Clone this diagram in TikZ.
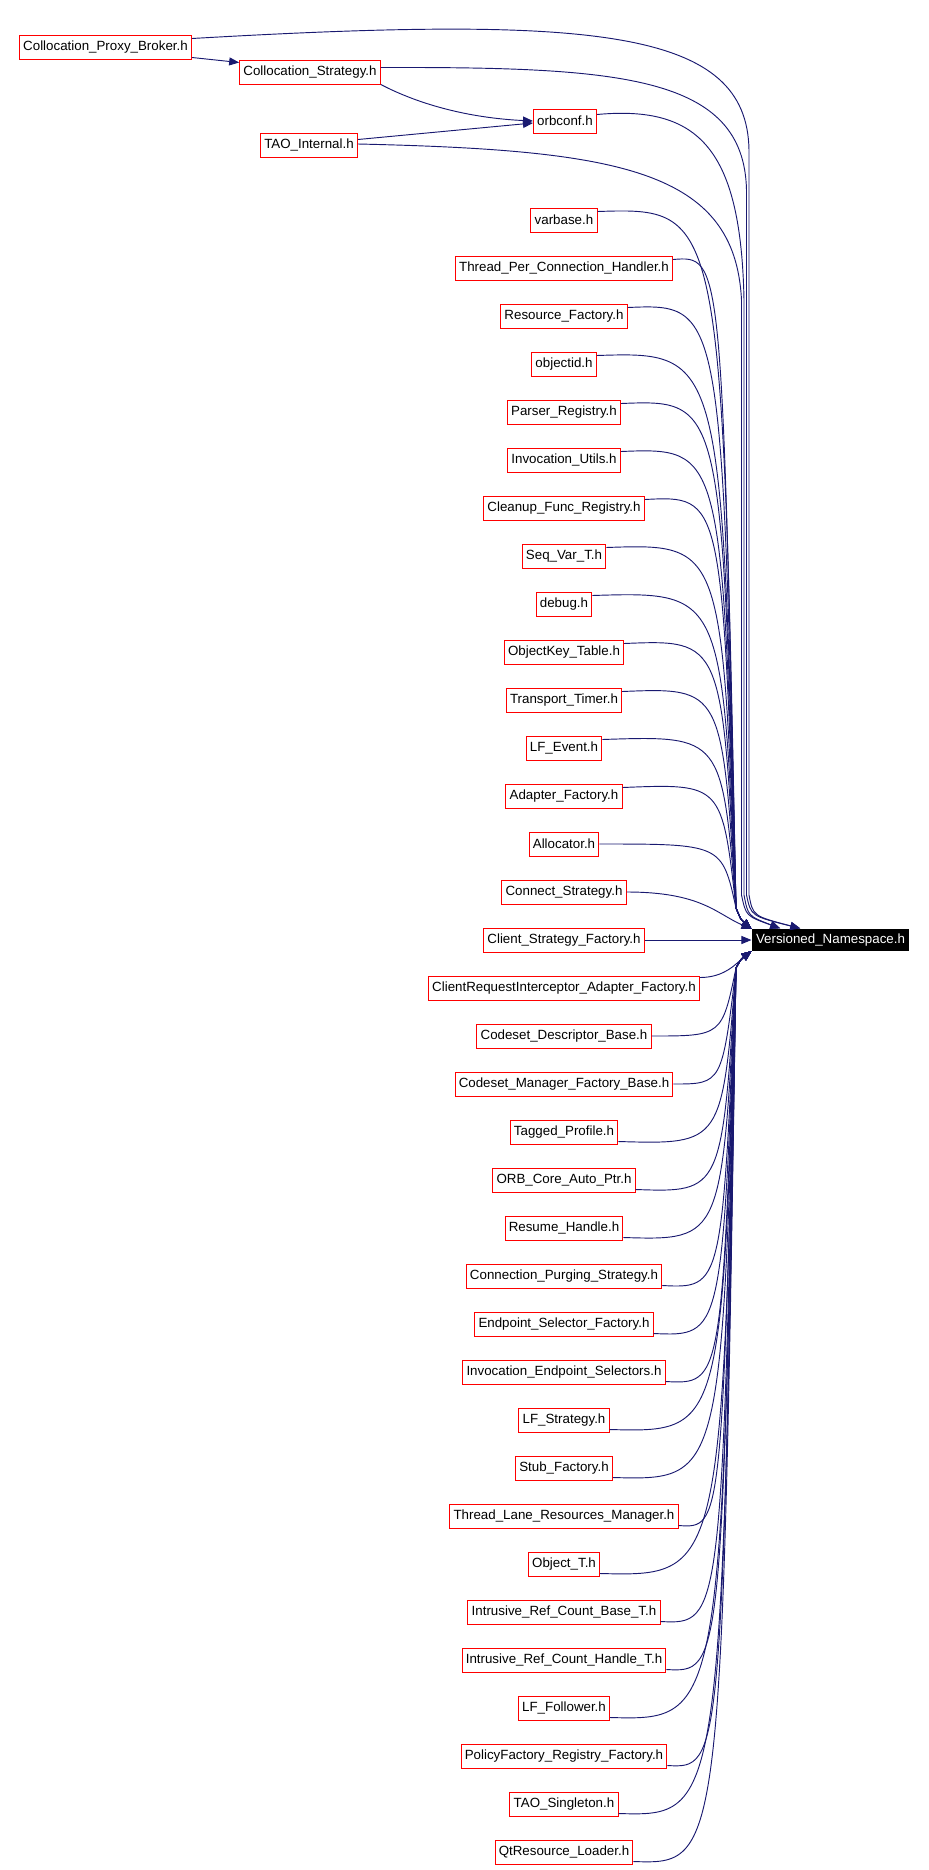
\documentclass[tikz,border=0pt]{standalone}
\usepackage{fontspec}
\setmainfont{Liberation Sans}
\usetikzlibrary{calc}
\usetikzlibrary{arrows.meta}

\definecolor{edgeblue}{RGB}{25,25,112}

\begin{document}
\begin{tikzpicture}[x=0.75pt,y=-0.75pt,
  file/.style={draw=red,line width=0.75pt,fill=white,inner xsep=2.8pt,inner ysep=0pt,minimum height=18pt},
  here/.style={fill=black,text=white,inner xsep=3.2pt,inner ysep=0pt,minimum height=17pt},
  dep/.style={draw=edgeblue,line width=0.7pt,-{Triangle[length=7.5pt,width=6pt]}}]
\def\u{48}
\def\cx{564}
\useasboundingbox (0,0) rectangle (928,1870);

\node[file] (cpb) at (105.5, 47) {Collocation\_Proxy\_Broker.h};
\node[file] (cs) at (310, 72) {Collocation\_Strategy.h};
\node[file] (orb) at (565, 121) {orbconf.h};
\node[file] (tao) at (309, 145) {TAO\_Internal.h};
\node[here] (vn) at (830.5, 940) {Versioned\_Namespace.h};

\node[file] (f1) at (\cx, 220) {varbase.h};
\node[file] (f2) at (\cx, 220+1*\u) {Thread\_Per\_Connection\_Handler.h};
\node[file] (f3) at (\cx, 220+2*\u) {Resource\_Factory.h};
\node[file] (f4) at (\cx, 220+3*\u) {objectid.h};
\node[file] (f5) at (\cx, 220+4*\u) {Parser\_Registry.h};
\node[file] (f6) at (\cx, 220+5*\u) {Invocation\_Utils.h};
\node[file] (f7) at (\cx, 220+6*\u) {Cleanup\_Func\_Registry.h};
\node[file] (f8) at (\cx, 220+7*\u) {Seq\_Var\_T.h};
\node[file] (f9) at (\cx, 220+8*\u) {debug.h};
\node[file] (f10) at (\cx, 220+9*\u) {ObjectKey\_Table.h};
\node[file] (f11) at (\cx, 220+10*\u) {Transport\_Timer.h};
\node[file] (f12) at (\cx, 220+11*\u) {LF\_Event.h};
\node[file] (f13) at (\cx, 220+12*\u) {Adapter\_Factory.h};
\node[file] (f14) at (\cx, 220+13*\u) {Allocator.h};
\node[file] (f15) at (\cx, 220+14*\u) {Connect\_Strategy.h};
\node[file] (f16) at (\cx, 220+15*\u) {Client\_Strategy\_Factory.h};
\node[file] (f17) at (\cx, 220+16*\u) {ClientRequestInterceptor\_Adapter\_Factory.h};
\node[file] (f18) at (\cx, 220+17*\u) {Codeset\_Descriptor\_Base.h};
\node[file] (f19) at (\cx, 220+18*\u) {Codeset\_Manager\_Factory\_Base.h};
\node[file] (f20) at (\cx, 220+19*\u) {Tagged\_Profile.h};
\node[file] (f21) at (\cx, 220+20*\u) {ORB\_Core\_Auto\_Ptr.h};
\node[file] (f22) at (\cx, 220+21*\u) {Resume\_Handle.h};
\node[file] (f23) at (\cx, 220+22*\u) {Connection\_Purging\_Strategy.h};
\node[file] (f24) at (\cx, 220+23*\u) {Endpoint\_Selector\_Factory.h};
\node[file] (f25) at (\cx, 220+24*\u) {Invocation\_Endpoint\_Selectors.h};
\node[file] (f26) at (\cx, 220+25*\u) {LF\_Strategy.h};
\node[file] (f27) at (\cx, 220+26*\u) {Stub\_Factory.h};
\node[file] (f28) at (\cx, 220+27*\u) {Thread\_Lane\_Resources\_Manager.h};
\node[file] (f29) at (\cx, 220+28*\u) {Object\_T.h};
\node[file] (f30) at (\cx, 220+29*\u) {Intrusive\_Ref\_Count\_Base\_T.h};
\node[file] (f31) at (\cx, 220+30*\u) {Intrusive\_Ref\_Count\_Handle\_T.h};
\node[file] (f32) at (\cx, 220+31*\u) {LF\_Follower.h};
\node[file] (f33) at (\cx, 220+32*\u) {PolicyFactory\_Registry\_Factory.h};
\node[file] (f34) at (\cx, 220+33*\u) {TAO\_Singleton.h};
\node[file] (f35) at (\cx, 220+34*\u) {QtResource\_Loader.h};

% where the bundles bend in
\coordinate (k) at (722, 0);
\coordinate (upin) at (736, 908);
\coordinate (hk) at (741, 920);
\coordinate (lowin) at (736, 968);
\coordinate (lk) at (741, 959);

% top group
\draw[dep] ($(cpb.south east)+(0,-2)$) -- ($(cs.north west)+(0,3)$);
\draw[dep] (cs.south east) .. controls (420, 105) and (470, 118) .. (orb.west);
\draw[dep] ($(tao.north east)+(0,7)$) -- ($(orb.west)+(0,2)$);
\draw[dep] ($(cpb.north east)+(0,4)$) .. controls (600, 15) and (747, 30) .. (749, 150) -- (749, 895) .. controls (753, 916) .. (vn.159);
\draw[dep] ($(cs.north east)+(0,8)$) .. controls (620, 67) and (744, 75) .. (746.5, 190) -- (746.5, 895) .. controls (751, 916) .. (vn.159);
\draw[dep] ($(orb.north east)+(0,6)$) .. controls (700, 105) and (741, 150) .. (744, 300) -- (744, 895) .. controls (748, 916) .. (vn.167);
\draw[dep] ($(tao.east)+(0,-1)$) .. controls (620, 150) and (735, 170) .. (741.5, 300) -- (741.5, 895) .. controls (746, 916) .. (vn.167);

% column above
\draw[dep] ($(f1.north east)+(0,4)$) .. controls (f1.north east -| k) .. (upin) .. controls (hk) .. (vn.172);
\draw[dep] ($(f2.north east)+(0,4)$) .. controls (f2.north east -| k) .. (upin) .. controls (hk) .. (vn.172);
\draw[dep] ($(f3.north east)+(0,4)$) .. controls (f3.north east -| k) .. (upin) .. controls (hk) .. (vn.172);
\draw[dep] ($(f4.north east)+(0,4)$) .. controls (f4.north east -| k) .. (upin) .. controls (hk) .. (vn.172);
\draw[dep] ($(f5.north east)+(0,4)$) .. controls (f5.north east -| k) .. (upin) .. controls (hk) .. (vn.172);
\draw[dep] ($(f6.north east)+(0,4)$) .. controls (f6.north east -| k) .. (upin) .. controls (hk) .. (vn.172);
\draw[dep] ($(f7.north east)+(0,4)$) .. controls (f7.north east -| k) .. (upin) .. controls (hk) .. (vn.172);
\draw[dep] ($(f8.north east)+(0,4)$) .. controls (f8.north east -| k) .. (upin) .. controls (hk) .. (vn.172);
\draw[dep] ($(f9.north east)+(0,4)$) .. controls (f9.north east -| k) .. (upin) .. controls (hk) .. (vn.172);
\draw[dep] ($(f10.north east)+(0,4)$) .. controls (f10.north east -| k) .. (upin) .. controls (hk) .. (vn.172);
\draw[dep] ($(f11.north east)+(0,4)$) .. controls (f11.north east -| k) .. (upin) .. controls (hk) .. (vn.172);
\draw[dep] ($(f12.north east)+(0,4)$) .. controls (f12.north east -| k) .. (upin) .. controls (hk) .. (vn.172);
\draw[dep] ($(f13.north east)+(0,4)$) .. controls (f13.north east -| k) .. (upin) .. controls (hk) .. (vn.172);
\draw[dep] (f14.east) .. controls (f14.east -| k) .. (upin) .. controls (hk) .. (vn.172);
\draw[dep] (f15.east) .. controls +(75,0) and +(-35,-15) .. (vn.172);

% straight across
\draw[dep] (f16.east) -- (vn.west);

% column below
\draw[dep] ($(f17.north east)+(0,2)$) .. controls +(25,0) and +(-15,12) .. (vn.188);
\draw[dep] (f18.east) .. controls (f18.east -| k) .. (lowin) .. controls (lk) .. (vn.188);
\draw[dep] (f19.east) .. controls (f19.east -| k) .. (lowin) .. controls (lk) .. (vn.188);
\draw[dep] ($(f20.south east)+(0,-3)$) .. controls (f20.south east -| k) .. (lowin) .. controls (lk) .. (vn.188);
\draw[dep] ($(f21.south east)+(0,-3)$) .. controls (f21.south east -| k) .. (lowin) .. controls (lk) .. (vn.188);
\draw[dep] ($(f22.south east)+(0,-3)$) .. controls (f22.south east -| k) .. (lowin) .. controls (lk) .. (vn.188);
\draw[dep] ($(f23.south east)+(0,-3)$) .. controls (f23.south east -| k) .. (lowin) .. controls (lk) .. (vn.188);
\draw[dep] ($(f24.south east)+(0,-3)$) .. controls (f24.south east -| k) .. (lowin) .. controls (lk) .. (vn.188);
\draw[dep] ($(f25.south east)+(0,-3)$) .. controls (f25.south east -| k) .. (lowin) .. controls (lk) .. (vn.188);
\draw[dep] ($(f26.south east)+(0,-3)$) .. controls (f26.south east -| k) .. (lowin) .. controls (lk) .. (vn.188);
\draw[dep] ($(f27.south east)+(0,-3)$) .. controls (f27.south east -| k) .. (lowin) .. controls (lk) .. (vn.188);
\draw[dep] ($(f28.south east)+(0,-3)$) .. controls (f28.south east -| k) .. (lowin) .. controls (lk) .. (vn.188);
\draw[dep] ($(f29.south east)+(0,-3)$) .. controls (f29.south east -| k) .. (lowin) .. controls (lk) .. (vn.188);
\draw[dep] ($(f30.south east)+(0,-3)$) .. controls (f30.south east -| k) .. (lowin) .. controls (lk) .. (vn.188);
\draw[dep] ($(f31.south east)+(0,-3)$) .. controls (f31.south east -| k) .. (lowin) .. controls (lk) .. (vn.188);
\draw[dep] ($(f32.south east)+(0,-3)$) .. controls (f32.south east -| k) .. (lowin) .. controls (lk) .. (vn.188);
\draw[dep] ($(f33.south east)+(0,-3)$) .. controls (f33.south east -| k) .. (lowin) .. controls (lk) .. (vn.188);
\draw[dep] ($(f34.south east)+(0,-3)$) .. controls (f34.south east -| k) .. (lowin) .. controls (lk) .. (vn.188);
\draw[dep] ($(f35.south east)+(0,-3)$) .. controls (f35.south east -| k) .. (lowin) .. controls (lk) .. (vn.188);
\end{tikzpicture}
\end{document}
